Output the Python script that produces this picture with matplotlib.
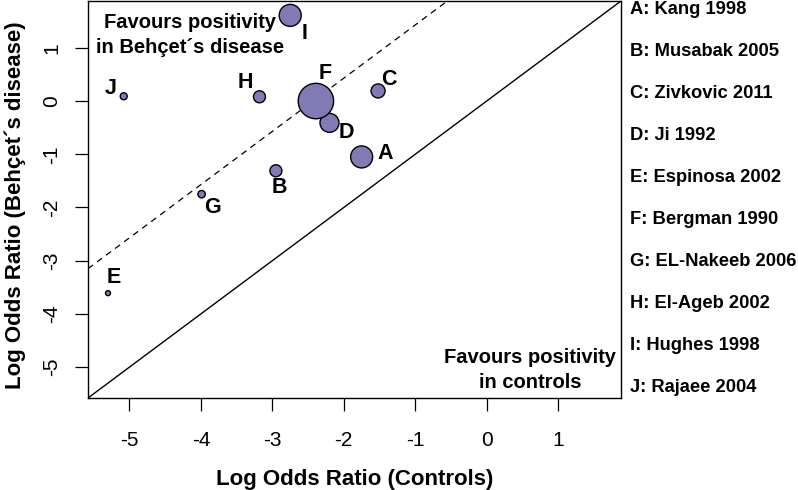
import matplotlib
matplotlib.use("Agg")
import matplotlib.pyplot as plt

plt.rcParams['font.family'] = ['Liberation Sans', 'DejaVu Sans']
plt.rcParams['axes.unicode_minus'] = False

# Données (log odds ratios)
etudes = ['A', 'B', 'C', 'D', 'E', 'F', 'G', 'H', 'I', 'J']
noms = ['Kang 1998', 'Musabak 2005', 'Zivkovic 2011', 'Ji 1992', 'Espinosa 2002',
        'Bergman 1990', 'EL-Nakeeb 2006', 'El-Ageb 2002', 'Hughes 1998', 'Rajaee 2004']
lor_controles = [-1.75, -2.95, -1.52, -2.20, -5.30, -2.39, -3.99, -3.18, -2.75, -5.08]
lor_behcet = [-1.05, -1.31, 0.19, -0.41, -3.61, 0.00, -1.75, 0.08, 1.61, 0.09]
poids = [11.0, 6.0, 7.0, 9.5, 2.5, 17.7, 3.7, 6.0, 11.0, 3.5]   # rayon relatif des bulles
decalage_pooled = 2.43   # log OR global (ligne en pointillés)

graduations = [-5, -4, -3, -2, -1, 0, 1]
limites = (-5.58, 1.88)

fig = plt.figure(figsize=(7.98, 4.90), dpi=100)
ax = fig.add_axes([88 / 798, 1 - 398 / 490, 533 / 798, 397 / 490])

# Lignes : égalité et effet global
ax.plot(limites, limites, color='black', lw=1.0, zorder=1)
ax.plot(limites, [v + decalage_pooled for v in limites], color='black', lw=0.9,
        linestyle=(0, (5, 4)), zorder=1)

# Bulles (taille proportionnelle au poids)
tailles = [(2 * r * 0.72) ** 2 for r in poids]
ax.scatter(lor_controles, lor_behcet, s=tailles, color='#817BB5',
           edgecolors='black', linewidths=1.0, zorder=3)

# Position des lettres autour des bulles (en pixels)
decalages = {'A': (24, 3), 'B': (3, -17), 'C': (11, 11), 'D': (17, -10), 'E': (6, 16),
             'F': (9, 28), 'G': (11, -13), 'H': (-14, 14), 'I': (14, -18), 'J': (-13, 8)}
for lettre, x, y in zip(etudes, lor_controles, lor_behcet):
    ax.annotate(lettre, (x, y), xytext=decalages[lettre], textcoords='offset pixels',
                ha='center', va='center', fontsize=15.5, fontweight='bold')

ax.set_xlim(limites)
ax.set_ylim(limites)
ax.set_xticks(graduations)
ax.set_xticklabels([str(g) for g in graduations])
ax.set_yticks(graduations)
ax.set_yticklabels([str(g) for g in graduations], rotation=90, va='center')
ax.tick_params(direction='out', length=9.5, width=0.9, labelsize=15)
ax.tick_params(axis='x', pad=14)
ax.tick_params(axis='y', pad=10)
for sp in ax.spines.values():
    sp.set_linewidth(1.0)

ax.set_xlabel('Log Odds Ratio (Controls)', fontsize=16, fontweight='bold')
ax.set_ylabel('Log Odds Ratio (Behçet´s disease)', fontsize=16, fontweight='bold')
ax.xaxis.label.set_va('center')
ax.yaxis.label.set_va('center')
ax.xaxis.set_label_coords(0.5, -0.205)
ax.yaxis.set_label_coords(-0.137, 0.486)

# Annotations dans le graphique
ax.text((190 - 88) / 533, (398 - 35) / 397, 'Favours positivity\nin Behçet´s disease',
        transform=ax.transAxes, ha='center', va='center', fontsize=14.5,
        fontweight='bold', linespacing=1.35)
ax.text((530 - 88) / 533, (398 - 370) / 397, 'Favours positivity\nin controls',
        transform=ax.transAxes, ha='center', va='center', fontsize=14.5,
        fontweight='bold', linespacing=1.35)

# Légende à droite
for i, (lettre, nom) in enumerate(zip(etudes, noms)):
    y_px = 9 + i * 42.1
    fig.text(630 / 798, 1 - y_px / 490, f'{lettre}: {nom}', ha='left', va='center',
             fontsize=13.2, fontweight='bold')

fig.savefig('out.png', dpi=100)
